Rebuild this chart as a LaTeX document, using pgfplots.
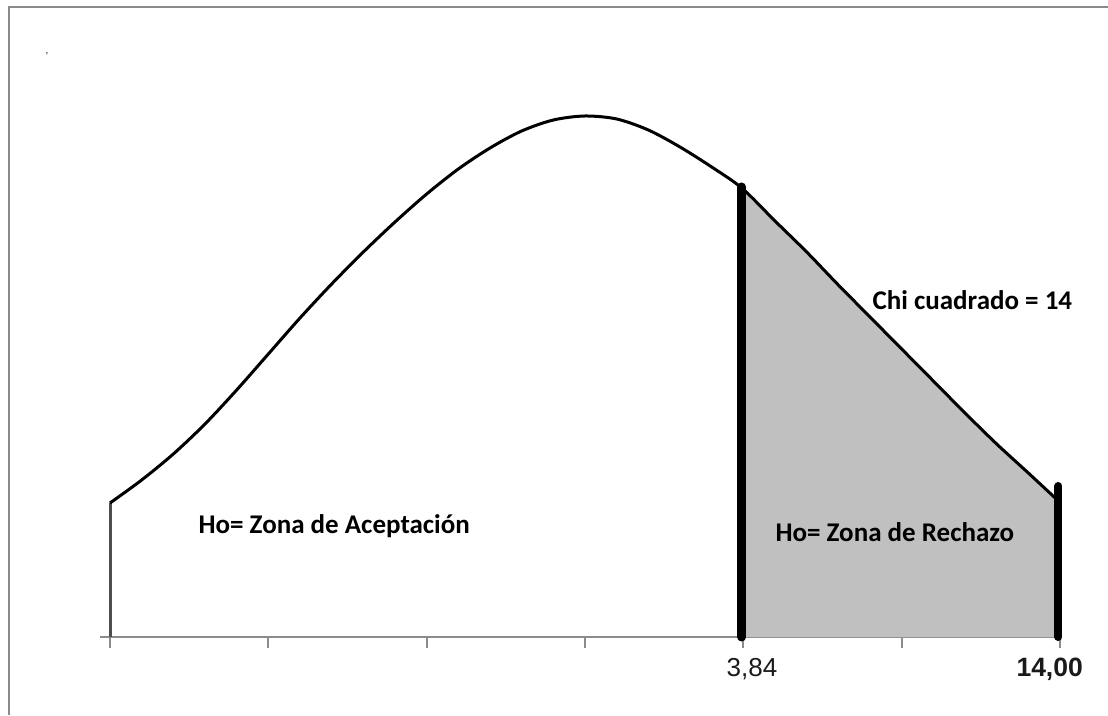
\documentclass[border=0pt]{standalone}
\usepackage{fontspec}
\setmainfont{Liberation Sans}
\newfontfamily\cali{Carlito}
\usepackage{pgfplots}
\pgfplotsset{compat=1.18}
\definecolor{zonegray}{HTML}{C0C0C0}
\definecolor{axgray}{HTML}{8C8C8C}
\definecolor{framegray}{HTML}{8A8A8A}
\definecolor{leftgray}{HTML}{4D4D4D}
\definecolor{ticktext}{HTML}{1A1A1A}
\begin{document}
\begin{tikzpicture}[x=1pt,y=1pt]
\begin{axis}[
  at={(100pt,78pt)}, anchor=south west,
  scale only axis, width=962pt, height=630pt,
  xmin=-0.06316, xmax=6.0126, ymin=0, ymax=630,
  axis x line=bottom, axis y line=none,
  x axis line style={-, draw=axgray, line width=2pt},
  xtick={0,1,2,3,4,5,6}, xticklabels={}, ytick=\empty,
  tick align=outside, major tick length=11pt,
  every tick/.style={draw=axgray, line width=2pt},
  clip=false,
]
% rejection zone fill
\addplot[fill=zonegray, draw=none, smooth] coordinates {
  (3.99,449) (4.2,416) (4.4,385) (4.6,352) (4.8,320) (5.0,288)
  (5.2,256) (5.4,224) (5.6,193) (5.8,164) (5.99,136)
} \closedcycle;
% left edge line
\addplot[leftgray, line width=3pt] coordinates {(0,0) (0,134)};
% curve
\addplot[black, line width=3pt, smooth] coordinates {
  (0,134) (0.2,157) (0.4,183) (0.6,213) (0.8,247) (1.0,283)
  (1.2,319) (1.4,353) (1.6,385) (1.8,415) (2.0,443) (2.2,468)
  (2.4,489) (2.6,506) (2.8,517) (3.0,521) (3.2,518) (3.4,507)
  (3.6,490) (3.8,470) (3.99,449) (4.2,416) (4.4,385) (4.6,352)
  (4.8,320) (5.0,288) (5.2,256) (5.4,224) (5.6,193) (5.8,164)
  (5.99,136)
};
% critical value and statistic lines
\addplot[black, line width=9pt, line cap=round] coordinates {(3.99,0) (3.99,450)};
\addplot[black, line width=8pt, line cap=round] coordinates {(5.99,0) (5.99,151)};
% labels
\node[anchor=base west, font=\cali\bfseries\fontsize{27}{32}\selectfont] at (axis cs:0.537,103) {Ho= Zona de Aceptación};
\node[anchor=base west, font=\cali\bfseries\fontsize{27}{32}\selectfont] at (axis cs:4.181,95) {Ho= Zona de Rechazo};
\node[anchor=base west, font=\cali\bfseries\fontsize{27}{32}\selectfont] at (axis cs:4.794,327) {Chi cuadrado = 14};
\node[anchor=base west, text=ticktext, font=\fontsize{26}{30}\selectfont] at (axis cs:3.872,-39) {3,84};
\node[anchor=base west, text=ticktext, font=\bfseries\fontsize{26.5}{30}\selectfont] at (axis cs:5.703,-39) {14,00};
\end{axis}
\draw[framegray, line width=2pt] (9pt,0pt) -- (9pt,708pt) -- (1108pt,708pt);
\node[font=\fontsize{10}{10}\selectfont, inner sep=0pt] at (47pt,659pt) {'};
\pgfresetboundingbox
\useasboundingbox (0pt,0pt) rectangle (1108pt,715pt);
\end{tikzpicture}
\end{document}
